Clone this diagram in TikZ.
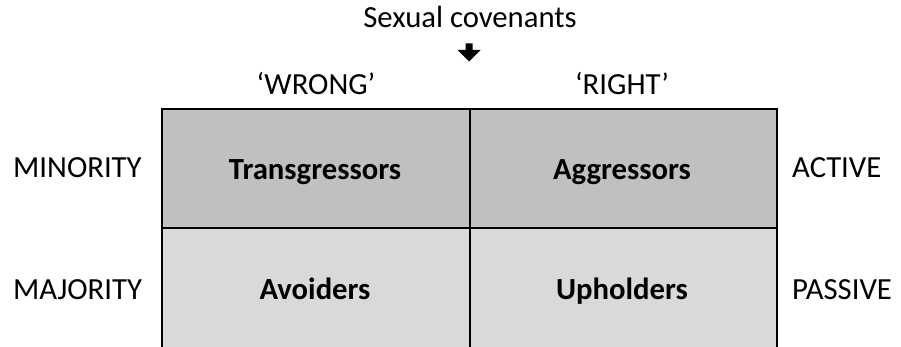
\documentclass[tikz,border=0pt]{standalone}
\usepackage{fontspec}
\setmainfont{Carlito}
\begin{document}
\begin{tikzpicture}[x=1pt,y=-1pt,
  lbl/.style={inner sep=0pt, anchor=base, font=\fontsize{30.7}{36}\selectfont},
  lbll/.style={lbl, anchor=base west},
  celltxt/.style={lbl, font=\fontsize{30.7}{36}\selectfont\bfseries},
  gridline/.style={line width=2.4pt, black}]
\useasboundingbox (0,0) rectangle (901,347);
% cell fills
\fill[fill={rgb,255:red,192;green,192;blue,192}] (162,109) rectangle (777,228);
\fill[fill={rgb,255:red,217;green,217;blue,217}] (162,228) rectangle (777,347);
% grid
\coordinate (tl) at (162,109);
\coordinate (tr) at (777,109);
\coordinate (tm) at (470,109);
\coordinate (ml) at (162,228);
\coordinate (mr) at (777,228);
\coordinate (bl) at (162,347);
\coordinate (br) at (777,347);
\coordinate (bm) at (470,347);
\draw[gridline] (bl) -- (tl) -- (tr) -- (br);
\draw[gridline] (ml) -- (mr);
\draw[gridline] (tm) -- (bm);
% titles
\node[lbl] (title) at (470,28) {Sexual covenants};
\fill (465.5,43.5) -- (472.5,43.5) -- (472.5,50) -- (480.5,50) -- (469,61.5) -- (457.5,50) -- (465.5,50) -- cycle;
\node[lbl] (wrong) at (316,95) {‘WRONG’};
\node[lbl] (right) at (622,95) {‘RIGHT’};
% side labels
\node[lbll] (minority) at (13,178) {MINORITY};
\node[lbll] (majority) at (13,299) {MAJORITY};
\node[lbll] (active) at (792,178) {ACTIVE};
\node[lbll] (passive) at (792,299) {PASSIVE};
% cells
\node[celltxt] (trans) at (315,180) {Transgressors};
\node[celltxt] (aggr) at (622,180) {Aggressors};
\node[celltxt] (avoid) at (315,299) {Avoiders};
\node[celltxt] (uphold) at (622,299) {Upholders};
\end{tikzpicture}
\end{document}
